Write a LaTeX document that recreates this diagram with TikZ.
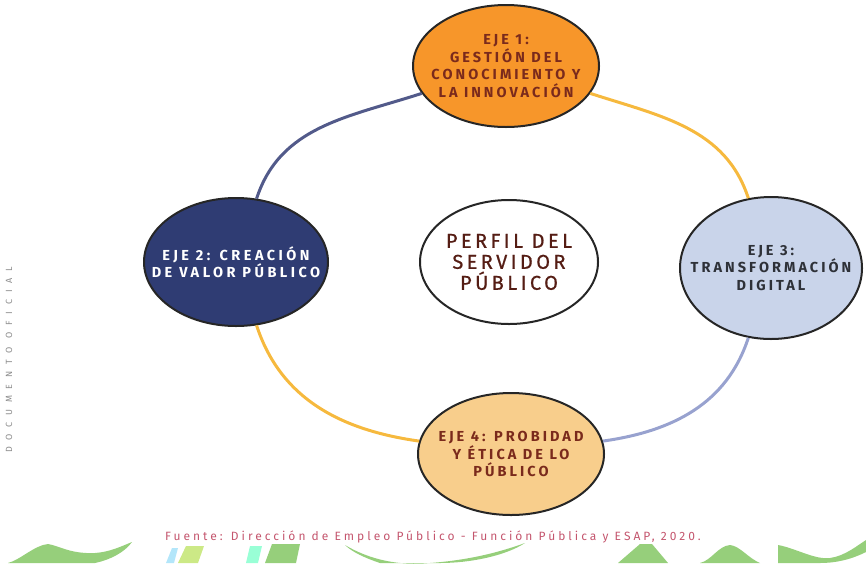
\documentclass[tikz,border=0pt]{standalone}
\usepackage{fontspec}
\newfontfamily\axisfont[LetterSpace=21]{Fira Sans}
\newfontfamily\perfilfont[LetterSpace=17, FakeBold=0.6]{Fira Sans}
\newfontfamily\notefont[LetterSpace=25]{Fira Sans}
\newfontfamily\sellofont[LetterSpace=75]{Fira Sans}
\usetikzlibrary{shapes.geometric}

\definecolor{ejeorange}{HTML}{F7962A}
\definecolor{ejenavy}{HTML}{2F3C73}
\definecolor{ejesky}{HTML}{C9D4EA}
\definecolor{ejepeach}{HTML}{F8CE8C}
\definecolor{ringnavy}{HTML}{525A8A}
\definecolor{ringgold}{HTML}{F6B93E}
\definecolor{ringlilac}{HTML}{98A2CF}
\definecolor{textbrown}{HTML}{7A2A1C}
\definecolor{textgray}{HTML}{2E3138}
\definecolor{notered}{HTML}{C4566E}
\definecolor{bandgreen}{HTML}{7CC35A}

\tikzset{
    eje/.style={ellipse, draw=black!85, line width=2pt, align=center, inner xsep=-30pt, inner ysep=-15pt,
        font=\axisfont\bfseries\fontsize{14.5}{17.5}\selectfont},
    ring/.style={line width=3pt},
}

\begin{document}
\begin{tikzpicture}[x=1pt, y=-1pt]
    \useasboundingbox (0,0) rectangle (866,563);

    % the four axes and the profile in the middle
    \node[eje, fill=ejeorange, text=textbrown, minimum width=186pt, minimum height=122pt] (eje1) at (506,66) {EJE 1:\\GESTIÓN DEL\\CONOCIMIENTO Y\\LA INNOVACIÓN};
    \node[eje, fill=ejenavy, text=white, minimum width=184pt, minimum height=128pt] (eje2) at (236,262) {\addfontfeature{LetterSpace=24}EJE 2: CREACIÓN\\\addfontfeature{LetterSpace=24}DE VALOR PÚBLICO};
    \node[eje, fill=ejesky, text=textgray, minimum width=182pt, minimum height=142pt] (eje3) at (771,268) {EJE 3:\\TRANSFORMACIÓN\\DIGITAL};
    \node[eje, fill=ejepeach, text=textbrown, minimum width=186pt, minimum height=122pt] (eje4) at (511,454) {EJE 4: PROBIDAD\\Y ÉTICA DE LO\\PÚBLICO};
    \node[eje, fill=white, text=textbrown!70!black, minimum width=178pt, minimum height=124pt,
        font=\perfilfont\fontsize{20}{21}\selectfont] (perfil) at (509,262) {PERFIL DEL\\SERVIDOR\\PÚBLICO};

    % ring joining the axes
    \draw[ring, ringnavy] (eje1) to[out=198, in=72] (eje2);
    \draw[ring, ringgold] (eje2) to[out=-72, in=172] (eje4);
    \draw[ring, ringgold] (eje1) to[out=-18, in=108] (eje3);
    \draw[ring, ringlilac] (eje3) to[out=-108, in=8] (eje4);

    \node[text=notered, font=\notefont\fontsize{12}{14}\selectfont] (fuente) at (433,537) {Fuente: Dirección de Empleo Público - Función Pública y ESAP, 2020.};
    \node[rotate=90, text=black!45, font=\sellofont\fontsize{9}{10}\selectfont] (sello) at (9,360) {DOCUMENTO OFICIAL};

    % green band along the bottom edge
    \fill[bandgreen!80] (8,563) .. controls (20,560) and (35,545) .. (48,544) .. controls (60,546) and (70,554) .. (95,553)
        .. controls (110,552) and (122,546) .. (132,542) .. controls (125,552) and (110,560) .. (95,563) -- cycle;
    \fill[yellow!60!green!50] (178,563) -- (186,546) -- (204,546) -- (198,563) -- cycle;
    \fill[cyan!30] (166,563) -- (172,548) -- (178,548) -- (174,563) -- cycle;
    \fill[green!40!cyan!40] (246,563) -- (250,546) -- (262,546) -- (258,563) -- cycle;
    \fill[bandgreen!80] (265,563) -- (272,544) -- (300,544) -- (296,563) -- cycle;
    \fill[bandgreen!80] (345,545) .. controls (370,560) and (400,566) .. (430,563) .. controls (470,560) and (500,552) .. (525,543)
        .. controls (505,556) and (470,563) .. (440,563) -- (380,563) .. controls (365,558) and (352,552) .. cycle;
    \fill[bandgreen!80] (618,563) -- (640,544) -- (652,544) -- (668,563) -- cycle;
    \fill[bandgreen!80] (700,563) .. controls (712,560) and (718,546) .. (730,545) .. controls (740,546) and (748,558) .. (760,563) -- cycle;
    \fill[bandgreen!80] (778,563) -- (778,545) .. controls (795,548) and (815,560) .. (830,558) .. controls (845,556) and (858,545) .. (866,540)
        -- (866,552) .. controls (850,560) and (835,563) .. (820,563) -- cycle;
\end{tikzpicture}
\end{document}
